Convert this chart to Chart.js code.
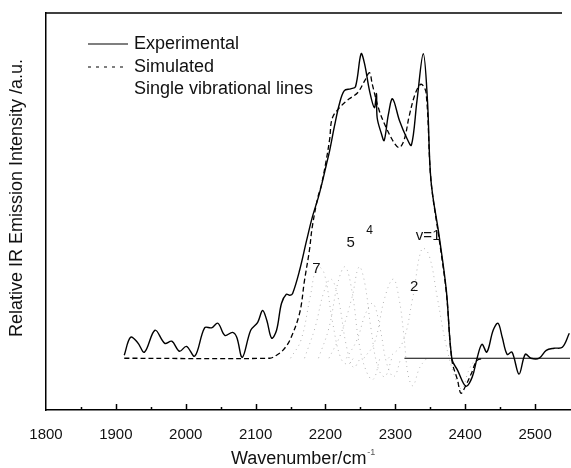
<!DOCTYPE html>
<html>
<head>
<meta charset="utf-8">
<script src="https://cdn.jsdelivr.net/npm/chart.js@4.4.1/dist/chart.umd.min.js"></script>
<style>
  html, body { margin: 0; padding: 0; background: #fff; }
  #wrap { width: 571px; height: 468px; position: relative; }
</style>
</head>
<body>
<div id="wrap"><canvas id="chart"></canvas></div>
<script>
// Daten
const expWn = [1912, 1921, 1931, 1941, 1956, 1970, 1980, 1991, 2001, 2013, 2027, 2037, 2046, 2056, 2067, 2073, 2081, 2093, 2103, 2110, 2116, 2123, 2130, 2137, 2144, 2149, 2153, 2163, 2173, 2181, 2190, 2196, 2201, 2206, 2213, 2220, 2227, 2236, 2243, 2251, 2256, 2263, 2270, 2273, 2274, 2280, 2284, 2290, 2296, 2306, 2316, 2323, 2331, 2340, 2346, 2351, 2363, 2373, 2381, 2389, 2401, 2410, 2417, 2424, 2431, 2440, 2447, 2453, 2460, 2467, 2477, 2486, 2494, 2506, 2516, 2527, 2539, 2549];
const expVal = [0.01, 0.069, 0.052, 0.02, 0.092, 0.049, 0.056, 0.023, 0.039, 0.007, 0.10, 0.10, 0.115, 0.075, 0.085, 0.069, 0.003, 0.092, 0.118, 0.157, 0.125, 0.066, 0.092, 0.18, 0.21, 0.207, 0.213, 0.289, 0.387, 0.462, 0.53, 0.584, 0.633, 0.682, 0.764, 0.836, 0.879, 0.885, 0.892, 1.0, 0.967, 0.879, 0.823, 0.869, 0.79, 0.738, 0.715, 0.80, 0.852, 0.78, 0.725, 0.70, 0.846, 1.0, 0.846, 0.584, 0.397, 0.223, -0.003, -0.039, -0.092, -0.062, 0, 0.046, 0.02, 0.092, 0.115, 0.069, 0.013, 0.02, -0.052, 0.013, 0, 0, 0.026, 0.033, 0.036, 0.082];

const simWn = [1912, 2120, 2130, 2139, 2149, 2163, 2170, 2177, 2181, 2189, 2194, 2201, 2206, 2210, 2223, 2234, 2246, 2256, 2263, 2267, 2277, 2287, 2299, 2306, 2313, 2320, 2329, 2337, 2344, 2351, 2363, 2373, 2381, 2389, 2394, 2401, 2409, 2417, 2427];
const simVal = [0, 0, 0.01, 0.026, 0.059, 0.148, 0.256, 0.354, 0.43, 0.528, 0.567, 0.649, 0.72, 0.79, 0.83, 0.852, 0.872, 0.911, 0.938, 0.90, 0.813, 0.757, 0.705, 0.692, 0.72, 0.797, 0.872, 0.90, 0.872, 0.584, 0.387, 0.216, -0.007, -0.072, -0.115, -0.089, -0.049, -0.007, 0];

// Einzelne Schwingungslinien (v = 1 ... 7)
const v1Wn = [2290, 2310, 2325, 2338, 2348, 2360, 2372, 2385, 2395, 2405, 2415];
const v1Val = [0, 0.05, 0.2, 0.36, 0.34, 0.2, 0.05, -0.06, -0.1, -0.04, 0];
const v2Wn = [2255, 2270, 2285, 2297, 2305, 2312, 2318, 2325, 2335, 2345];
const v2Val = [0, 0.05, 0.2, 0.26, 0.2, 0.08, -0.05, -0.09, -0.03, 0];
const v3Wn = [2230, 2245, 2258, 2268, 2278, 2288, 2298, 2308];
const v3Val = [0, 0.06, 0.15, 0.18, 0.1, -0.02, -0.06, 0];
const v4Wn = [2205, 2222, 2238, 2248, 2256, 2265, 2275, 2285, 2295];
const v4Val = [0, 0.08, 0.2, 0.3, 0.25, 0.1, -0.03, -0.06, 0];
const v5Wn = [2190, 2205, 2218, 2228, 2238, 2248, 2258, 2268, 2278];
const v5Val = [0, 0.1, 0.25, 0.3, 0.22, 0.05, -0.04, -0.07, 0];
const v6Wn = [2170, 2185, 2198, 2208, 2218, 2230, 2240, 2250];
const v6Val = [0, 0.1, 0.22, 0.26, 0.2, 0.04, -0.03, 0];
const v7Wn = [2150, 2165, 2178, 2188, 2198, 2210, 2222, 2232, 2240];
const v7Val = [0, 0.06, 0.2, 0.3, 0.28, 0.12, 0, -0.02, 0];

const nullLinieWn = [2313, 2550];
const nullLinieVal = [0, 0];

const linienLabels = ["v=1", "2", "4", "5", "7"];
const linienLabelWn = [2347, 2327, 2263, 2236, 2187];
const linienLabelVal = [0.403, 0.233, 0.42, 0.38, 0.295];

const tickMarken = [1850, 1900, 1950, 2000, 2050, 2100, 2150, 2200, 2250, 2300, 2350, 2400, 2450, 2500];

const legendeTexte = ["Experimental", "Simulated", "Single vibrational lines"];
const xTitel = "Wavenumber/cm";
const yTitel = "Relative IR Emission Intensity /a.u.";

const schrift = "'Liberation Sans', Arial, sans-serif";

function punkte(wn, val) {
  return wn.map((w, i) => ({ x: w, y: val[i] }));
}

function linienDataset(wn, val) {
  return {
    data: punkte(wn, val),
    borderColor: "#b4b4b4",
    borderWidth: 1,
    borderDash: [1, 4],
    pointRadius: 0,
    tension: 0.4,
  };
}

// Eigene Zeichnungen: Rahmen, Ticks nach innen, Beschriftungen, Legende
const zeichenPlugin = {
  id: "zeichenPlugin",
  afterDraw(chart) {
    const ctx = chart.ctx;
    const { left, right, top, bottom } = chart.chartArea;
    const x = chart.scales.x;
    const y = chart.scales.y;
    ctx.save();

    // obere Rahmenlinie
    ctx.strokeStyle = "#000";
    ctx.lineWidth = 1.3;
    ctx.beginPath();
    ctx.moveTo(left, top);
    ctx.lineTo(right - 8, top);
    ctx.stroke();

    // Ticks nach innen
    ctx.lineWidth = 1.5;
    tickMarken.forEach((v) => {
      const px = Math.round(x.getPixelForValue(v)) + 0.5;
      const len = v % 100 === 0 ? 6 : 3;
      ctx.beginPath();
      ctx.moveTo(px, bottom);
      ctx.lineTo(px, bottom - len);
      ctx.stroke();
    });

    // Beschriftung der Einzellinien
    ctx.fillStyle = "#111";
    ctx.textAlign = "center";
    ctx.textBaseline = "middle";
    linienLabels.forEach((t, i) => {
      ctx.font = (t === "4" ? "12px " : "15px ") + schrift;
      ctx.fillText(t, x.getPixelForValue(linienLabelWn[i]), y.getPixelForValue(linienLabelVal[i]));
    });

    // Legende
    ctx.textAlign = "left";
    ctx.font = "18px " + schrift;
    const legY = [44, 67, 89];
    ctx.strokeStyle = "#000";
    ctx.lineWidth = 1.2;
    ctx.setLineDash([]);
    ctx.beginPath();
    ctx.moveTo(88, legY[0]);
    ctx.lineTo(128, legY[0]);
    ctx.stroke();
    ctx.setLineDash([3, 5]);
    ctx.beginPath();
    ctx.moveTo(88, legY[1]);
    ctx.lineTo(128, legY[1]);
    ctx.stroke();
    ctx.setLineDash([]);
    legendeTexte.forEach((t, i) => {
      ctx.fillText(t, 134, legY[i]);
    });

    // Achsentitel
    ctx.font = "18px " + schrift;
    ctx.textBaseline = "alphabetic";
    ctx.fillText(xTitel, 231, 464);
    const w = ctx.measureText(xTitel).width;
    ctx.font = "9px " + schrift;
    ctx.fillStyle = "#555";
    ctx.fillText("-1", 231 + w + 1, 455);

    ctx.fillStyle = "#111";
    ctx.font = "18px " + schrift;
    ctx.translate(17, 198);
    ctx.rotate(-Math.PI / 2);
    ctx.textAlign = "center";
    ctx.textBaseline = "middle";
    ctx.fillText(yTitel, 0, 0);
    ctx.restore();
  },
};

const datasets = [
  {
    data: punkte(nullLinieWn, nullLinieVal),
    borderColor: "#000",
    borderWidth: 1.2,
    pointRadius: 0,
  },
  linienDataset(v1Wn, v1Val),
  linienDataset(v2Wn, v2Val),
  linienDataset(v3Wn, v3Val),
  linienDataset(v4Wn, v4Val),
  linienDataset(v5Wn, v5Val),
  linienDataset(v6Wn, v6Val),
  linienDataset(v7Wn, v7Val),
  {
    data: punkte(simWn, simVal),
    borderColor: "#000",
    borderWidth: 1.3,
    borderDash: [5, 3],
    pointRadius: 0,
    tension: 0.35,
  },
  {
    data: punkte(expWn, expVal),
    borderColor: "#000",
    borderWidth: 1.4,
    pointRadius: 0,
    tension: 0.35,
  },
];

const canvas = document.getElementById("chart").getContext("2d");
const diagramm = new Chart(canvas, {
  type: "line",
  data: { datasets: datasets },
  options: {
    animation: false,
    responsive: true,
    maintainAspectRatio: false,
    devicePixelRatio: 1,
    layout: {
      padding: { top: 13, right: 1, left: 0, bottom: 0 },
    },
    plugins: {
      legend: { display: false },
      tooltip: { enabled: false },
    },
    scales: {
      x: {
        type: "linear",
        min: 1800,
        max: 2550,
        ticks: {
          stepSize: 100,
          includeBounds: false,
          maxRotation: 0,
          padding: 8,
          color: "#111",
          font: { size: 15, family: schrift },
          callback: (v) => String(v),
        },
        grid: { display: false },
        border: { display: true, color: "#000", width: 1.5 },
        afterFit(scale) {
          scale.height = 58;
        },
      },
      y: {
        min: -0.17,
        max: 1.134,
        ticks: { display: false },
        grid: { display: false },
        border: { display: true, color: "#000", width: 1.5 },
        afterFit(scale) {
          scale.width = 46;
        },
      },
    },
  },
  plugins: [zeichenPlugin],
});
</script>
</body>
</html>
